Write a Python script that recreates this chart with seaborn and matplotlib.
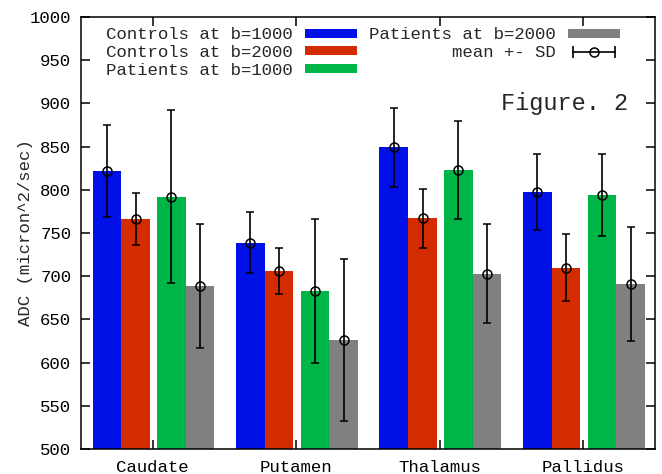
import numpy as np
import pandas as pd
import matplotlib
matplotlib.use("Agg")
import matplotlib.pyplot as plt
import seaborn as sns
from matplotlib.patches import Patch
from matplotlib.lines import Line2D
from matplotlib.legend_handler import HandlerLine2D

# Mean ADC and SD per region
regions = ["Caudate", "Putamen", "Thalamus", "Pallidus"]
groups = ["Controls at b=1000", "Controls at b=2000",
          "Patients at b=1000", "Patients at b=2000"]

ctrl_1000 = [822, 739, 849, 798]
ctrl_2000 = [766, 706, 767, 710]
pat_1000 = [792, 683, 823, 794]
pat_2000 = [689, 626, 703, 691]

ctrl_1000_sd = [53, 35, 46, 44]
ctrl_2000_sd = [30, 27, 34, 39]
pat_1000_sd = [100, 83, 57, 48]
pat_2000_sd = [72, 94, 57, 66]

y_ticks = [500, 550, 600, 650, 700, 750, 800, 850, 900, 950, 1000]

colors = ["#0010E6", "#D42C00", "#00B548", "#808080"]

means = [ctrl_1000, ctrl_2000, pat_1000, pat_2000]
sds = [ctrl_1000_sd, ctrl_2000_sd, pat_1000_sd, pat_2000_sd]

rows = []
for g, m, s in zip(groups, means, sds):
    for r, v, e in zip(regions, m, s):
        rows.append({"Region": r, "Group": g, "ADC": v, "SD": e})
df = pd.DataFrame(rows)

sns.set_theme(style="ticks")
plt.rcParams["font.family"] = ["Liberation Mono", "DejaVu Sans Mono"]
fs = 12.5

fig = plt.figure(figsize=(6.62, 4.74), dpi=100)
ax = fig.add_axes([0.1224, 0.0527, 0.867, 0.9114])

sns.barplot(data=df, x="Region", y="ADC", hue="Group", hue_order=groups,
            order=regions, palette=colors, width=0.8, errorbar=None,
            saturation=1, legend=False, ax=ax, linewidth=0)

# small gap between the controls pair and the patients pair
shifts = [-0.02, -0.02, 0.03, 0.03]
bar_containers = list(ax.containers)
for i, cont in enumerate(bar_containers):
    xs, ys = [], []
    for bar in cont:
        bar.set_x(bar.get_x() + shifts[i])
        xs.append(bar.get_x() + bar.get_width() / 2)
        ys.append(bar.get_height())
    ax.errorbar(xs, ys, yerr=sds[i], fmt="o", color="black", mfc="none",
                mec="black", ms=6.5, mew=1.1, elinewidth=1.2, capsize=3,
                capthick=1.2, zorder=5)

ax.set_xlim(-0.5, 3.5)
ax.set_ylim(500, 1000)
ax.set_yticks(y_ticks)
ax.set_xlabel("")
ax.set_ylabel("ADC (micron^2/sec)", fontsize=fs)
ax.yaxis.set_label_coords(-0.084, 0.5)

for sp in ax.spines.values():
    sp.set_visible(True)
    sp.set_color("black")
    sp.set_linewidth(1.1)
ax.tick_params(axis="both", direction="in", length=6.5, width=1.1,
               top=True, right=True, labelsize=fs, colors="black")
ax.tick_params(axis="y", pad=7)
ax.tick_params(axis="x", pad=8)

ax.text(0.953, 0.80, "Figure. 2", transform=ax.transAxes, ha="right",
        va="center", fontsize=17)

# legend: text then sample, two columns
handles = [Patch(facecolor=c, edgecolor="none") for c in colors]
caps = Line2D([], [], color="black", lw=1.2, marker="|", ms=8, mew=1.2)
circ = Line2D([], [], ls="none", marker="o", mfc="none", mec="black",
              ms=6.5, mew=1.1)
handles.append((caps, circ))
labels = groups + ["        mean +- SD"]
ax.legend(handles, labels, ncol=2, markerfirst=False, frameon=False,
          loc="upper left", bbox_to_anchor=(0.0436, 0.976),
          borderaxespad=0, borderpad=0, handlelength=3.0, handleheight=0.42,
          handletextpad=0.7, columnspacing=0.7, labelspacing=0.15,
          prop={"size": fs}, handler_map={caps: HandlerLine2D(numpoints=2)})

fig.savefig("out.png", dpi=100)
